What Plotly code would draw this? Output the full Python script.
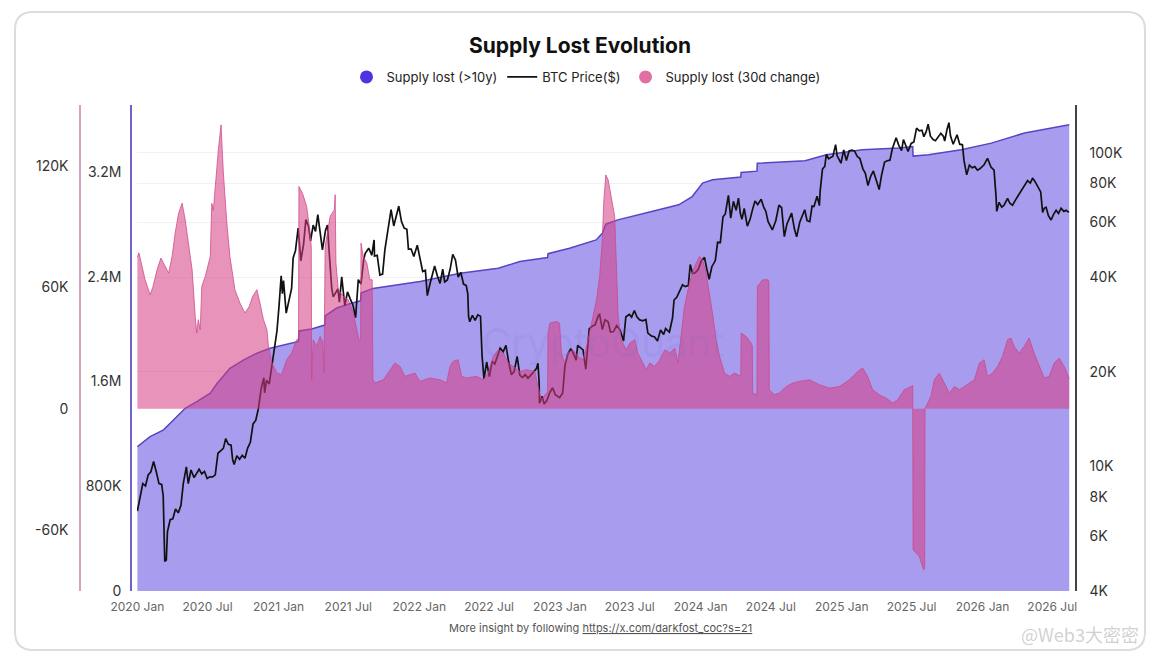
import math
import plotly.graph_objects as go

# ---------------- DATA ----------------
tick_dates = ["2020-01-01", "2020-07-01", "2021-01-01", "2021-07-01", "2022-01-01", "2022-07-01",
              "2023-01-01", "2023-07-01", "2024-01-01", "2024-07-01", "2025-01-01", "2025-07-01",
              "2026-01-01", "2026-07-01"]
tick_labels = ["2020 Jan", "2020 Jul", "2021 Jan", "2021 Jul", "2022 Jan", "2022 Jul",
               "2023 Jan", "2023 Jul", "2024 Jan", "2024 Jul", "2025 Jan", "2025 Jul",
               "2026 Jan", "2026 Jul"]

# Supply lost (>10y)
supply_dates = ["2020-01-01", "2020-02-03", "2020-03-09", "2020-04-12", "2020-05-04", "2020-06-03",
                "2020-07-08", "2020-07-26", "2020-08-28", "2020-10-03", "2020-11-06", "2020-12-10",
                "2021-01-15", "2021-02-22", "2021-02-23", "2021-03-28", "2021-05-01", "2021-05-02",
                "2021-06-01", "2021-07-01", "2021-08-02", "2021-08-03", "2021-09-03", "2021-11-12",
                "2022-01-03", "2022-04-17", "2022-07-25", "2022-09-19", "2022-11-30", "2022-12-01",
                "2023-01-26", "2023-04-05", "2023-04-21", "2023-04-30", "2023-05-31", "2023-08-27",
                "2023-11-05", "2023-12-10", "2024-01-06", "2024-02-01", "2024-04-14", "2024-04-15",
                "2024-05-26", "2024-05-27", "2024-09-28", "2024-11-22", "2025-02-23", "2025-05-30",
                "2025-07-04", "2025-07-05", "2025-08-14", "2025-11-07", "2026-01-24", "2026-04-20",
                "2026-08-14"]
supply_vals = [1102000, 1178000, 1230000, 1331000, 1395000, 1446000,
               1510000, 1586000, 1700000, 1764000, 1815000, 1853000,
               1880000, 1905000, 1985000, 2000000, 2030000, 2100000,
               2160000, 2190000, 2215000, 2275000, 2310000, 2340000,
               2362000, 2426000, 2464000, 2515000, 2545000, 2575000,
               2617000, 2680000, 2730000, 2800000, 2833000, 2897000,
               2948000, 3011000, 3114000, 3139000, 3160000, 3195000,
               3205000, 3265000, 3285000, 3330000, 3368000, 3381000,
               3393000, 3320000, 3330000, 3368000, 3419000, 3496000,
               3559000]

# BTC price ($)
price_dates = [
    "2020-01-01", "2020-01-08", "2020-01-15", "2020-01-22", "2020-01-29", "2020-02-05", "2020-02-12",
    "2020-02-19", "2020-02-26", "2020-03-04", "2020-03-08", "2020-03-12", "2020-03-16", "2020-03-19",
    "2020-03-26", "2020-04-02", "2020-04-09", "2020-04-16", "2020-04-23", "2020-04-29", "2020-05-07",
    "2020-05-12", "2020-05-19", "2020-05-27", "2020-06-02", "2020-06-09", "2020-06-16", "2020-06-23",
    "2020-06-30", "2020-07-07", "2020-07-14", "2020-07-21", "2020-07-28", "2020-08-04", "2020-08-11",
    "2020-08-17", "2020-08-24", "2020-08-31", "2020-09-04", "2020-09-08", "2020-09-15", "2020-09-22",
    "2020-09-29", "2020-10-06", "2020-10-13", "2020-10-20", "2020-10-27", "2020-11-03", "2020-11-10",
    "2020-11-17", "2020-11-24", "2020-11-26", "2020-12-01", "2020-12-08", "2020-12-16", "2020-12-22",
    "2020-12-28",
    "2021-01-02", "2021-01-08", "2021-01-11", "2021-01-14", "2021-01-21", "2021-01-28", "2021-02-04",
    "2021-02-08", "2021-02-14", "2021-02-21", "2021-02-28", "2021-03-07", "2021-03-13", "2021-03-20",
    "2021-03-25", "2021-04-01", "2021-04-07", "2021-04-13", "2021-04-18", "2021-04-25", "2021-05-03",
    "2021-05-08", "2021-05-12", "2021-05-19", "2021-05-23", "2021-05-28", "2021-06-04", "2021-06-08",
    "2021-06-14", "2021-06-22", "2021-06-29", "2021-07-06", "2021-07-13", "2021-07-20", "2021-07-27",
    "2021-08-03", "2021-08-10", "2021-08-14", "2021-08-23", "2021-08-31", "2021-09-06", "2021-09-07",
    "2021-09-14", "2021-09-21", "2021-09-28", "2021-10-04", "2021-10-12", "2021-10-20", "2021-10-27",
    "2021-11-02", "2021-11-09", "2021-11-16", "2021-11-23", "2021-11-30", "2021-12-04", "2021-12-11",
    "2021-12-18", "2021-12-27",
    "2022-01-03", "2022-01-10", "2022-01-17", "2022-01-22", "2022-01-29", "2022-02-05", "2022-02-10",
    "2022-02-17", "2022-02-24", "2022-03-03", "2022-03-08", "2022-03-15", "2022-03-22", "2022-03-29",
    "2022-04-05", "2022-04-12", "2022-04-19", "2022-04-26", "2022-05-03", "2022-05-07", "2022-05-09",
    "2022-05-12", "2022-05-19", "2022-05-26", "2022-06-02", "2022-06-09", "2022-06-13", "2022-06-18",
    "2022-06-25", "2022-07-02", "2022-07-09", "2022-07-16", "2022-07-23", "2022-07-30", "2022-08-07",
    "2022-08-14", "2022-08-21", "2022-08-28", "2022-09-04", "2022-09-12", "2022-09-19", "2022-09-26",
    "2022-10-03", "2022-10-10", "2022-10-17", "2022-10-25", "2022-11-01", "2022-11-05", "2022-11-08",
    "2022-11-09", "2022-11-16", "2022-11-21", "2022-11-28", "2022-12-05", "2022-12-13", "2022-12-20",
    "2022-12-31",
    "2023-01-08", "2023-01-14", "2023-01-21", "2023-01-29", "2023-02-05", "2023-02-12", "2023-02-16",
    "2023-02-23", "2023-03-02", "2023-03-09", "2023-03-13", "2023-03-18", "2023-03-26", "2023-04-02",
    "2023-04-11", "2023-04-14", "2023-04-21", "2023-04-28", "2023-05-06", "2023-05-12", "2023-05-20",
    "2023-05-28", "2023-06-06", "2023-06-15", "2023-06-21", "2023-06-30", "2023-07-06", "2023-07-13",
    "2023-07-20", "2023-07-27", "2023-08-04", "2023-08-12", "2023-08-17", "2023-08-27", "2023-09-03",
    "2023-09-11", "2023-09-19", "2023-09-27", "2023-10-02", "2023-10-12", "2023-10-20", "2023-10-24",
    "2023-10-31", "2023-11-09", "2023-11-15", "2023-11-22", "2023-11-30", "2023-12-05", "2023-12-11",
    "2023-12-18", "2023-12-26",
    "2024-01-02", "2024-01-11", "2024-01-16", "2024-01-23", "2024-01-30", "2024-02-08", "2024-02-14",
    "2024-02-21", "2024-02-28", "2024-03-05", "2024-03-13", "2024-03-19", "2024-03-26", "2024-04-02",
    "2024-04-08", "2024-04-13", "2024-04-17", "2024-04-23", "2024-05-01", "2024-05-08", "2024-05-15",
    "2024-05-21", "2024-05-28", "2024-06-06", "2024-06-13", "2024-06-18", "2024-06-24", "2024-07-05",
    "2024-07-14", "2024-07-22", "2024-07-29", "2024-08-05", "2024-08-12", "2024-08-24", "2024-08-31",
    "2024-09-06", "2024-09-14", "2024-09-20", "2024-09-27", "2024-10-03", "2024-10-10", "2024-10-16",
    "2024-10-21", "2024-10-29", "2024-11-04", "2024-11-06", "2024-11-12", "2024-11-18", "2024-11-22",
    "2024-11-28", "2024-12-05", "2024-12-09", "2024-12-16", "2024-12-20", "2024-12-30",
    "2025-01-06", "2025-01-13", "2025-01-20", "2025-01-27", "2025-02-03", "2025-02-10", "2025-02-17",
    "2025-02-25", "2025-03-03", "2025-03-10", "2025-03-17", "2025-03-24", "2025-03-31", "2025-04-08",
    "2025-04-14", "2025-04-22", "2025-04-29", "2025-05-06", "2025-05-12", "2025-05-22", "2025-05-29",
    "2025-06-05", "2025-06-10", "2025-06-17", "2025-06-22", "2025-06-30", "2025-07-07", "2025-07-14",
    "2025-07-21", "2025-07-28", "2025-08-02", "2025-08-08", "2025-08-13", "2025-08-19", "2025-08-26",
    "2025-09-01", "2025-09-08", "2025-09-15", "2025-09-22", "2025-09-25", "2025-10-01", "2025-10-06",
    "2025-10-10", "2025-10-17", "2025-10-27", "2025-11-03", "2025-11-10", "2025-11-14", "2025-11-21",
    "2025-11-28", "2025-12-05", "2025-12-12", "2025-12-19", "2025-12-26",
    "2026-01-05", "2026-01-14", "2026-01-23", "2026-01-31", "2026-02-05", "2026-02-07", "2026-02-13",
    "2026-02-20", "2026-02-26", "2026-03-07", "2026-03-13", "2026-03-20", "2026-03-27", "2026-04-02",
    "2026-04-09", "2026-04-15", "2026-04-22", "2026-04-28", "2026-05-05", "2026-05-11", "2026-05-17",
    "2026-05-24", "2026-06-01", "2026-06-06", "2026-06-10", "2026-06-15", "2026-06-21", "2026-06-28",
    "2026-07-04", "2026-07-11", "2026-07-17", "2026-07-24", "2026-07-31", "2026-08-06", "2026-08-13"]
price_vals = [
    7200, 8050, 8800, 8650, 9380, 9600, 10350,
    9600, 8800, 8750, 8040, 4970, 5020, 6190,
    6750, 6800, 7300, 7100, 7500, 8800, 9950,
    8800, 9730, 9200, 9500, 9780, 9450, 9630,
    9140, 9250, 9250, 9390, 11000, 11200, 11400,
    12250, 11750, 11680, 10500, 10130, 10800, 10530,
    10840, 10600, 11430, 11920, 13650, 14000, 15300,
    17650, 19150, 17150, 18800, 18300, 21300, 23800,
    27000,
    32000, 40500, 35500, 39100, 30800, 33400, 36900,
    46200, 48700, 57500, 45200, 51000, 61200, 58300,
    52300, 58800, 56100, 63500, 56200, 49000, 56600,
    58800, 49200, 37000, 34700, 35700, 36800, 33400,
    40200, 32500, 36000, 34200, 32700, 29800, 39400,
    38100, 45600, 47800, 49600, 47100, 52700, 46800,
    47100, 40700, 41000, 49100, 56000, 65900, 58400,
    63000, 67600, 60300, 57500, 57000, 49300, 49300,
    46700, 50700,
    46400, 41800, 42200, 35000, 38200, 41600, 43500,
    40500, 38300, 42500, 38700, 39300, 42400, 47400,
    45500, 40100, 41500, 38100, 37700, 35500, 30100,
    28900, 30300, 29200, 30400, 30100, 22500, 19000,
    21500, 19300, 21600, 21200, 22600, 23800, 23200,
    24300, 21500, 19600, 20000, 22400, 19500, 19200,
    19600, 19100, 19500, 20100, 20500, 21300, 18500,
    15900, 16700, 15800, 16200, 17100, 17800, 16900,
    16550,
    17100, 20900, 22700, 23700, 22900, 21800, 24300,
    23900, 23500, 20400, 24100, 27400, 28000, 28200,
    30300, 30500, 27300, 29300, 28900, 26800, 26900,
    28100, 27200, 25100, 30000, 30500, 29900, 31400,
    29900, 29300, 29100, 29400, 26600, 26000, 25900,
    25100, 27200, 26300, 27500, 26800, 29700, 33900,
    34600, 36700, 37900, 37400, 37700, 44000, 41200,
    41400, 42500,
    45000, 46400, 43100, 39500, 43300, 45300, 51800,
    51700, 62500, 63800, 73100, 61900, 70000, 65500,
    71600, 64000, 61300, 66400, 58300, 61200, 66200,
    70100, 68400, 71100, 66800, 65100, 60300, 56700,
    60800, 68000, 66800, 54000, 59400, 64200, 57300,
    53900, 60000, 63100, 65800, 60700, 60300, 67600,
    67400, 72700, 67800, 75600, 88700, 90500, 98900,
    95600, 96900, 97400, 106100, 97800, 92600,
    102100, 94500, 101300, 102000, 101400, 97400, 95800,
    88700, 86100, 78600, 84100, 87500, 82500, 76300,
    84500, 93400, 94300, 94700, 102800, 111600, 105600,
    101500, 110200, 104500, 100900, 107100, 108200, 119800,
    117400, 118000, 112500, 116700, 123300, 112900, 110100,
    109200, 112100, 115300, 112700, 109000, 118600, 124700,
    113200, 106400, 114100, 106500, 106000, 94500, 85000,
    91300, 89500, 90300, 88000, 89000,
    91500, 96000, 90000, 88000, 73000, 65000, 69500,
    67000, 68000, 71500, 69000, 68000, 70500, 72500,
    75000, 77500, 79500, 81500, 80000, 83000, 81000,
    78500, 75000, 64500, 66500, 67000, 63000, 61000,
    63500, 65500, 64000, 66500, 65000, 65500, 64500]

# Supply lost (30d change)
change_dates = [
    "2020-01-01", "2020-01-05", "2020-01-21", "2020-02-03", "2020-02-10", "2020-02-21", "2020-03-02",
    "2020-03-13", "2020-03-22", "2020-03-31", "2020-04-08", "2020-04-17", "2020-04-26", "2020-05-04",
    "2020-05-13", "2020-05-22", "2020-05-30", "2020-06-03", "2020-06-07", "2020-06-12", "2020-06-16",
    "2020-06-25", "2020-07-08", "2020-07-12", "2020-07-16", "2020-07-23", "2020-07-29", "2020-08-05",
    "2020-08-11", "2020-08-20", "2020-08-28", "2020-09-10", "2020-09-23", "2020-10-06", "2020-10-17",
    "2020-10-26", "2020-11-06", "2020-11-14", "2020-11-23", "2020-12-02", "2020-12-06", "2020-12-15",
    "2020-12-28",
    "2021-01-09", "2021-01-22", "2021-02-04", "2021-02-17", "2021-02-22", "2021-02-23", "2021-03-05",
    "2021-03-15", "2021-03-23", "2021-03-27", "2021-03-28", "2021-04-01", "2021-04-10", "2021-04-19",
    "2021-04-26", "2021-04-29", "2021-05-02", "2021-05-06", "2021-05-15", "2021-05-26", "2021-05-28",
    "2021-05-30", "2021-06-05", "2021-06-18", "2021-07-01", "2021-07-14", "2021-07-23", "2021-07-29",
    "2021-08-02", "2021-08-03", "2021-08-09", "2021-08-18", "2021-08-26", "2021-09-01", "2021-09-03",
    "2021-09-08", "2021-09-30", "2021-10-17", "2021-10-30", "2021-11-12", "2021-11-25", "2021-12-08",
    "2021-12-21",
    "2022-01-03", "2022-01-29", "2022-02-24", "2022-03-13", "2022-03-22", "2022-03-30", "2022-04-12",
    "2022-04-21", "2022-05-04", "2022-05-30", "2022-06-16", "2022-06-29", "2022-07-12", "2022-07-25",
    "2022-08-07", "2022-08-20", "2022-09-02", "2022-09-19", "2022-10-06", "2022-10-28", "2022-11-05",
    "2022-11-14", "2022-11-27", "2022-11-30", "2022-12-01", "2022-12-06", "2022-12-23", "2022-12-31",
    "2023-01-05", "2023-01-13", "2023-01-22", "2023-02-04", "2023-02-17", "2023-03-02", "2023-03-11",
    "2023-03-19", "2023-03-28", "2023-04-06", "2023-04-14", "2023-04-21", "2023-04-25", "2023-04-30",
    "2023-05-06", "2023-05-15", "2023-05-23", "2023-05-27", "2023-06-01", "2023-06-09", "2023-06-22",
    "2023-07-01", "2023-07-14", "2023-07-22", "2023-08-04", "2023-08-13", "2023-08-22", "2023-09-04",
    "2023-09-17", "2023-09-30", "2023-10-13", "2023-10-26", "2023-11-03", "2023-11-12", "2023-11-20",
    "2023-12-03", "2023-12-16", "2023-12-29",
    "2024-01-06", "2024-01-15", "2024-01-24", "2024-02-02", "2024-02-10", "2024-02-19", "2024-03-03",
    "2024-03-16", "2024-03-29", "2024-04-11", "2024-04-14", "2024-04-15", "2024-04-28", "2024-05-11",
    "2024-05-14", "2024-05-15", "2024-05-24", "2024-05-26", "2024-05-27", "2024-06-10", "2024-06-23",
    "2024-06-26", "2024-06-27", "2024-07-10", "2024-07-23", "2024-08-10", "2024-08-27", "2024-09-13",
    "2024-10-09", "2024-11-04", "2024-11-30", "2024-12-26",
    "2025-01-21", "2025-02-11", "2025-02-24", "2025-03-09", "2025-03-22", "2025-04-08", "2025-04-26",
    "2025-05-13", "2025-05-26", "2025-06-12", "2025-06-30", "2025-07-04", "2025-07-05", "2025-07-21",
    "2025-08-01", "2025-08-04", "2025-08-05", "2025-08-11", "2025-08-20", "2025-08-29", "2025-09-11",
    "2025-09-24", "2025-10-07", "2025-10-20", "2025-11-02", "2025-11-15", "2025-11-28", "2025-12-11",
    "2025-12-24",
    "2026-01-05", "2026-01-14", "2026-01-27", "2026-02-09", "2026-02-22", "2026-03-07", "2026-03-16",
    "2026-03-24", "2026-04-06", "2026-04-19", "2026-05-02", "2026-05-15", "2026-05-28", "2026-06-10",
    "2026-06-23", "2026-07-06", "2026-07-19", "2026-08-01", "2026-08-14"]
change_vals = [
    75000, 77000, 63700, 56300, 60000, 68600, 74400,
    70300, 67000, 75200, 86800, 96600, 101500, 93300,
    81800, 68600, 45600, 37400, 44000, 39000, 60400,
    65300, 75200, 101500, 98000, 116400, 127900, 140200,
    116400, 91700, 75200, 58800, 52200, 47300, 50500,
    55500, 58800, 52200, 44000, 39000, 30800, 22600,
    17600,
    16800, 24200, 27500, 34100, 34500, 109800, 106000,
    99900, 88400, 80000, 14300, 34000, 30800, 35700,
    33000, 17800, 80100, 85000, 95000, 98300, 105700,
    72000, 58800, 55500, 53800, 47300, 39000, 34000,
    34000, 81800, 75200, 72000, 63700, 63700, 14300,
    12700, 14300, 19300, 22600, 20900, 16000, 16800,
    17600,
    13500, 15200, 14300, 12700, 20900, 23400, 24200,
    16000, 15200, 16000, 14300, 17600, 25800, 29100,
    27500, 22600, 20900, 18400, 19300, 18400, 11000,
    4400, 7800, 8000, 37400, 42300, 43100, 42300,
    27500, 22600, 27500, 29100, 25800, 24200, 30800,
    37400, 45600, 53800, 65300, 83500, 103200, 115500,
    113100, 103200, 95000, 73600, 45600, 34100, 29100,
    32400, 34100, 27500, 22600, 19300, 22600, 20900,
    24200, 29100, 27500, 30000, 22600, 37400, 50500,
    62100, 70300, 75200,
    73600, 67000, 57100, 45600, 34100, 25800, 17600,
    16000, 17600, 16000, 16000, 37400, 35700, 32400,
    31000, 7800, 6900, 6900, 60400, 63700, 63700,
    63000, 9400, 6900, 7800, 11000, 12700, 13500,
    14300, 11900, 10200, 11000,
    14300, 18400, 20100, 16000, 9400, 6900, 5300,
    2800, 4400, 9400, 11000, 11500, -69600, -72900,
    -79500, -79000, 0, 2800, 6100, 14300, 17600,
    12700, 7800, 11000, 9400, 11000, 12700, 14300,
    22600,
    24200, 16000, 17600, 20900, 25800, 34100, 34900,
    30800, 27500, 30800, 34900, 27500, 20900, 15200,
    16000, 22600, 25000, 20900, 15000]

supply_ticks = [0, 800000, 1600000, 2400000, 3200000]
supply_tick_text = ["0", "800K", "1.6M", "2.4M", "3.2M"]
change_ticks = [-60000, 0, 60000, 120000]
change_tick_text = ["-60K", "0", "60K", "120K"]
price_ticks = [4000, 6000, 8000, 10000, 20000, 40000, 60000, 80000, 100000]
price_tick_text = ["4K", "6K", "8K", "10K", "20K", "40K", "60K", "80K", "100K"]

# ---------------- FIGURE ----------------
FONT = "Inter, Roboto, Liberation Sans, sans-serif"
W, H = 1160, 656
ML, MR, MT, MB = 60, 84, 105, 65
PW = W - ML - MR
PH = H - MT - MB


def px_x(px):
    return (px - ML) / PW


def px_y(py):
    return (H - MB - py) / PH


fig = go.Figure()

# purple area (base axis)
fig.add_trace(go.Scatter(
    x=supply_dates, y=supply_vals, mode="lines", yaxis="y", xaxis="x",
    line=dict(color="rgb(84,70,196)", width=1.5),
    fill="tozeroy", fillcolor="rgb(168,156,239)",
    name="Supply lost (>10y)", showlegend=False, hoverinfo="skip"))

# BTC price (log)
fig.add_trace(go.Scatter(
    x=price_dates, y=price_vals, mode="lines", yaxis="y2", xaxis="x",
    line=dict(color="#111111", width=1.7),
    name="BTC Price($)", showlegend=True, legendrank=2))

# pink 30d change
fig.add_trace(go.Scatter(
    x=change_dates, y=change_vals, mode="lines", yaxis="y3", xaxis="x",
    line=dict(color="rgba(205,70,135,0.75)", width=1),
    fill="tozeroy", fillcolor="rgba(214,60,130,0.55)",
    name="Supply lost (30d change)", showlegend=False, hoverinfo="skip"))

# legend dummies
fig.add_trace(go.Scatter(x=[None], y=[None], mode="markers", name="Supply lost (>10y)",
                         marker=dict(color="rgb(76,52,224)", size=13), legendrank=1))
fig.add_trace(go.Scatter(x=[None], y=[None], mode="markers", name="Supply lost (30d change)",
                         marker=dict(color="rgb(224,112,162)", size=13), legendrank=3))

axis_font = dict(family=FONT, size=14, color="#333333")

fig.update_layout(
    width=W, height=H,
    margin=dict(l=ML, r=MR, t=MT, b=MB),
    paper_bgcolor="white", plot_bgcolor="white",
    font=dict(family=FONT, color="#222"),
    title=dict(text="<b>Supply Lost Evolution</b>", x=0.5, xref="container", xanchor="center",
               y=1 - 46 / H, yref="container", yanchor="middle",
               font=dict(family=FONT, size=21, color="#111")),
    legend=dict(orientation="h", x=px_x(586), y=px_y(77), xanchor="center", yanchor="middle",
                font=dict(family=FONT, size=13, color="#222"), bgcolor="rgba(0,0,0,0)",
                itemwidth=30, tracegroupgap=0),
    xaxis=dict(domain=[px_x(137), px_x(1070)], type="date",
               range=["2019-12-31", "2026-08-16"],
               tickvals=tick_dates, ticktext=tick_labels,
               tickfont=dict(family=FONT, size=12, color="#666"),
               showgrid=False, showline=False, zeroline=False, ticks="", anchor="y",
               ticklabelstandoff=7),
    yaxis=dict(range=[0, 3710000], anchor="free", position=px_x(131), side="left",
               tickvals=supply_ticks, ticktext=supply_tick_text, tickfont=axis_font,
               showline=True, linecolor="rgb(112,98,205)", linewidth=1.5,
               showgrid=False, zeroline=False, ticks="", ticklabelstandoff=6),
    yaxis2=dict(type="log", range=[math.log10(4000), math.log10(142000)],
                overlaying="y", anchor="free", position=1.0, side="right",
                tickvals=price_ticks, ticktext=price_tick_text, tickfont=axis_font,
                showline=True, linecolor="#444", linewidth=1.5,
                showgrid=True, gridcolor="#f1f1f1", zeroline=False, ticks="",
                ticklabelstandoff=10),
    yaxis3=dict(range=[-90000, 150000], overlaying="y", anchor="free", position=px_x(80),
                side="left", tickvals=change_ticks, ticktext=change_tick_text, tickfont=axis_font,
                showline=True, linecolor="rgb(214,160,190)", linewidth=1.5,
                showgrid=False, zeroline=False, ticks="", ticklabelstandoff=8),
)

# card border (rounded rectangle)
x0, x1 = px_x(15), px_x(1145)
y0, y1 = px_y(650), px_y(12)
rx, ry = 18 / PW, 18 / PH
path = (f"M {x0 + rx},{y1} L {x1 - rx},{y1} Q {x1},{y1} {x1},{y1 - ry} "
        f"L {x1},{y0 + ry} Q {x1},{y0} {x1 - rx},{y0} L {x0 + rx},{y0} "
        f"Q {x0},{y0} {x0},{y0 + ry} L {x0},{y1 - ry} Q {x0},{y1} {x0 + rx},{y1} Z")
fig.add_shape(type="path", path=path, xref="paper", yref="paper",
              line=dict(color="#dcdcdc", width=2), layer="below")

# footer
fig.add_annotation(text="More insight by following <u>https://x.com/darkfost_coc?s=21</u>",
                   x=px_x(600), y=px_y(628), xref="paper", yref="paper", showarrow=False,
                   font=dict(family=FONT, size=11, color="#555"), xanchor="center", yanchor="middle")
# watermarks
fig.add_annotation(text="CryptoQuant", x=px_x(603), y=px_y(342), xref="paper", yref="paper",
                   showarrow=False, font=dict(family=FONT, size=40, color="rgba(120,110,200,0.13)"))
fig.add_annotation(text="@Web3大密密", x=px_x(1080), y=px_y(634), xref="paper", yref="paper",
                   xanchor="center", yanchor="middle", showarrow=False,
                   font=dict(family="Noto Sans CJK SC, sans-serif", size=18, color="rgba(150,150,150,0.45)"))

fig.write_html("out.html", config={"displayModeBar": False},
               post_script="document.body.style.margin='0px';document.body.style.overflow='hidden';")
